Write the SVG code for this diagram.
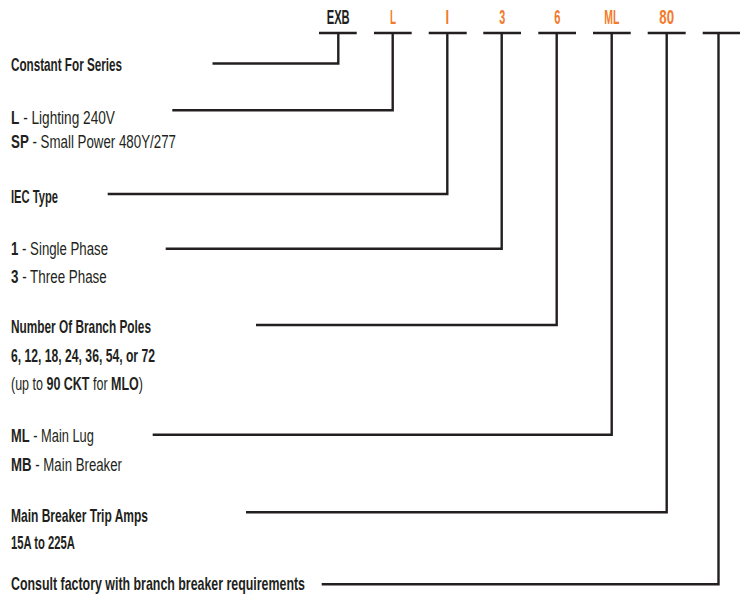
<svg xmlns="http://www.w3.org/2000/svg" width="743" height="602" viewBox="0 0 743 602">
<style>
.t{font-family:"Liberation Sans","DejaVu Sans",sans-serif;font-size:18.5px;fill:#231f20}
.b{font-weight:bold}
.h{font-family:"Liberation Sans","DejaVu Sans",sans-serif;font-size:20px;font-weight:bold}
.k{fill:#231f20}
.o{fill:#f37a2b}
.ln{fill:none;stroke:#231f20;stroke-width:2.4;stroke-linejoin:miter;stroke-linecap:butt}
</style>
<rect width="743" height="602" fill="#ffffff"/>
<g id="code">
  <g id="c-exb"><text class="h k" x="326.7" y="24" textLength="23" lengthAdjust="spacingAndGlyphs">EXB</text></g>
  <g id="c-l"><text class="h o" x="390" y="24" textLength="6" lengthAdjust="spacingAndGlyphs">L</text></g>
  <g id="c-i"><text class="h o" x="445.6" y="24" textLength="3.6" lengthAdjust="spacingAndGlyphs">I</text></g>
  <g id="c-3"><text class="h o" x="499.2" y="24" textLength="6" lengthAdjust="spacingAndGlyphs">3</text></g>
  <g id="c-6"><text class="h o" x="554.2" y="24" textLength="6.2" lengthAdjust="spacingAndGlyphs">6</text></g>
  <g id="c-ml"><text class="h o" x="604.3" y="24" textLength="15" lengthAdjust="spacingAndGlyphs">ML</text></g>
  <g id="c-80"><text class="h o" x="659.3" y="24" textLength="14.7" lengthAdjust="spacingAndGlyphs">80</text></g>
</g>
<g id="n-series"><text class="t b" x="11" y="71" textLength="111" lengthAdjust="spacingAndGlyphs">Constant For Series</text></g>
<g id="n-voltage">
  <text class="t" transform="translate(11,124.3) scale(0.738,1)"><tspan class="b">L</tspan> - Lighting 240V</text>
  <text class="t" transform="translate(11,148.3) scale(0.7196,1)"><tspan class="b">SP</tspan> - Small Power 480Y/277</text>
</g>
<g id="n-iec"><text class="t b" x="11" y="202.7" textLength="47" lengthAdjust="spacingAndGlyphs">IEC Type</text></g>
<g id="n-phase">
  <text class="t" transform="translate(11,255) scale(0.715,1)"><tspan class="b">1</tspan> - Single Phase</text>
  <text class="t" transform="translate(11,283.3) scale(0.724,1)"><tspan class="b">3</tspan> - Three Phase</text>
</g>
<g id="n-poles">
  <text class="t b" x="11" y="333.3" textLength="140" lengthAdjust="spacingAndGlyphs">Number Of Branch Poles</text>
  <text class="t b" x="11" y="361.5" textLength="144" lengthAdjust="spacingAndGlyphs">6, 12, 18, 24, 36, 54, or 72</text>
  <text class="t" transform="translate(11,389.5) scale(0.676,1)">(up to <tspan class="b">90 CKT</tspan> for <tspan class="b">MLO</tspan>)</text>
</g>
<g id="n-main">
  <text class="t" transform="translate(11,442.3) scale(0.696,1)"><tspan class="b">ML</tspan> - Main Lug</text>
  <text class="t" transform="translate(11,470.7) scale(0.715,1)"><tspan class="b">MB</tspan> - Main Breaker</text>
</g>
<g id="n-trip">
  <text class="t b" x="11" y="521.7" textLength="137" lengthAdjust="spacingAndGlyphs">Main Breaker Trip Amps</text>
  <text class="t b" x="11" y="549.3" textLength="64" lengthAdjust="spacingAndGlyphs">15A to 225A</text>
</g>
<g id="n-consult"><text class="t b" x="11" y="590" textLength="294" lengthAdjust="spacingAndGlyphs">Consult factory with branch breaker requirements</text></g>
<g id="connectors" class="ln">
  <line class="ln" x1="319" y1="33" x2="356.7" y2="33"/>
  <line class="ln" x1="374" y1="33" x2="411.7" y2="33"/>
  <line class="ln" x1="428.7" y1="33" x2="466.7" y2="33"/>
  <line class="ln" x1="483.3" y1="33" x2="521" y2="33"/>
  <line class="ln" x1="538.3" y1="33" x2="576" y2="33"/>
  <line class="ln" x1="593" y1="33" x2="630.7" y2="33"/>
  <line class="ln" x1="647.7" y1="33" x2="685.7" y2="33"/>
  <line class="ln" x1="702.7" y1="33" x2="740" y2="33"/>
  <polyline class="ln" points="212.5,63.5 338.3,63.5 338.3,33"/>
  <polyline class="ln" points="172.3,110.3 392.7,110.3 392.7,33"/>
  <polyline class="ln" points="107.7,194 447.3,194 447.3,33"/>
  <polyline class="ln" points="165.7,248.7 501.7,248.7 501.7,33"/>
  <polyline class="ln" points="256,325 556.7,325 556.7,33"/>
  <polyline class="ln" points="152.7,434.7 611.7,434.7 611.7,33"/>
  <polyline class="ln" points="246,512.3 666.7,512.3 666.7,33"/>
  <polyline class="ln" points="321.7,584.3 718.5,584.3 718.5,33"/>
</g>
</svg>
